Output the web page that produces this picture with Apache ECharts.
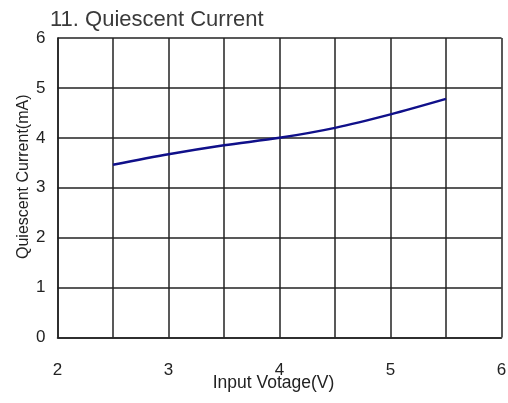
<!DOCTYPE html>
<html>
<head>
<meta charset="utf-8">
<script src="https://cdn.jsdelivr.net/npm/echarts@6/dist/echarts.min.js"></script>
<style>
  html, body { margin: 0; padding: 0; background: #fff; }
  #chart { width: 508px; height: 403px; }
</style>
</head>
<body>
<div id="chart"></div>
<script>
// Quiescent current vs input voltage
const inputVoltage = [2.5, 3.0, 3.5, 4.0, 4.5, 5.0, 5.5];
const quiescentCurrent = [3.46, 3.67, 3.85, 4.0, 4.2, 4.47, 4.78];

const chart = echarts.init(document.getElementById('chart'));
const font = 'Liberation Sans, Arial, sans-serif';

const option = {
    animation: false,
    title: {
        text: '11. Quiescent Current',
        left: 45,
        top: 4,
        textStyle: { fontFamily: font, fontSize: 22, fontWeight: 'normal', color: '#3a3a3a' }
    },
    grid: { left: 57.5, right: 6.5, top: 38, bottom: 65.5, outerBoundsMode: 'none' },
    xAxis: {
        type: 'value',
        min: 2,
        max: 6,
        interval: 0.5,
        name: 'Input Votage(V)',
        nameLocation: 'middle',
        nameGap: 37,
        nameMoveOverlap: false,
        nameTextStyle: { fontFamily: font, fontSize: 17.5, color: '#222', padding: [0, 12, 0, 0] },
        axisLine: { show: true, lineStyle: { color: '#222', width: 1.5 } },
        axisTick: { show: false },
        axisLabel: {
            margin: 24,
            fontFamily: font,
            fontSize: 17,
            color: '#222',
            formatter: v => (Number.isInteger(v) ? String(v) : '')
        },
        splitLine: { show: true, lineStyle: { color: '#222', width: 1.5 } }
    },
    yAxis: {
        type: 'value',
        min: 0,
        max: 6,
        interval: 1,
        name: 'Quiescent Current(mA)',
        nameLocation: 'middle',
        nameGap: 26,
        nameMoveOverlap: false,
        nameTextStyle: { fontFamily: font, fontSize: 16, color: '#222', padding: [0, 0, 0, 22] },
        axisLine: { show: true, lineStyle: { color: '#222', width: 1.5 } },
        axisTick: { show: false },
        axisLabel: { margin: 12, fontFamily: font, fontSize: 17, color: '#222' },
        splitLine: { show: true, lineStyle: { color: '#222', width: 1.5 } }
    },
    series: [{
        type: 'line',
        data: inputVoltage.map((v, i) => [v, quiescentCurrent[i]]),
        smooth: 0.3,
        symbol: 'none',
        lineStyle: { color: '#10108a', width: 2.5 }
    }]
};
chart.setOption(option);
</script>
</body>
</html>
